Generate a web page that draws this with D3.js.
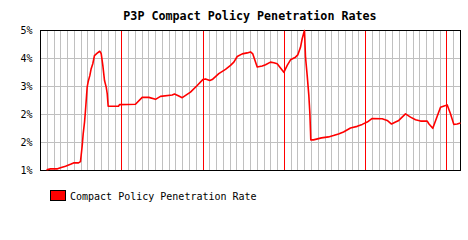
<!DOCTYPE html>
<html>
<head>
<meta charset="utf-8">
<script src="https://cdn.jsdelivr.net/npm/d3@7"></script>
<style>
  body { margin: 0; background: #ffffff; }
</style>
</head>
<body>
<div id="chart"></div>
<script>
// month index since the start of the series (62 months shown)
var months = [0.89, 1.48, 2.51, 2.95, 3.69, 4.43, 4.87, 5.61, 5.90, 6.16,
    6.30, 6.50, 6.64, 6.89, 7.04, 7.28, 7.48, 7.72, 7.97, 8.37,
    8.75, 8.96, 9.20, 9.45, 9.70, 9.85, 9.99, 11.51, 11.66, 14.02,
    15.01, 15.99, 16.98, 17.71, 19.44, 19.78, 20.42, 20.92, 22.14, 23.13,
    23.96, 24.36, 24.99, 25.35, 26.32, 27.31, 28.05, 28.54, 29.04, 29.78,
    30.51, 31.00, 31.34, 31.99, 32.73, 33.22, 33.95, 34.44, 34.94, 35.43,
    35.92, 36.42, 36.91, 37.64, 37.98, 38.38, 38.63, 38.87, 38.97, 39.12,
    39.37, 39.61, 39.76, 39.86, 39.90, 40.30, 41.48, 42.52, 43.25, 43.99,
    44.73, 45.76, 46.75, 47.49, 48.23, 48.97, 50.44, 51.18, 51.82, 52.41,
    52.89, 53.88, 54.62, 55.36, 56.10, 57.09, 57.32, 57.91, 58.56, 59.05,
    59.79, 60.04, 60.52, 61.01, 61.51, 62.00];

// penetration rate, percent
var rates = [0.77, 0.80, 0.80, 0.83, 0.88, 0.94, 0.98, 0.98, 1.02, 1.51,
    1.86, 2.22, 2.57, 3.28, 3.45, 3.63, 3.84, 3.99, 4.24, 4.31,
    4.37, 4.30, 3.94, 3.48, 3.28, 3.08, 2.70, 2.70, 2.75, 2.76,
    2.97, 2.97, 2.91, 3.00, 3.04, 3.07, 3.01, 2.96, 3.13, 3.33,
    3.51, 3.53, 3.48, 3.51, 3.69, 3.82, 3.94, 4.04, 4.21, 4.29,
    4.32, 4.35, 4.29, 3.89, 3.92, 3.96, 4.04, 4.02, 3.99, 3.86,
    3.73, 3.94, 4.11, 4.19, 4.26, 4.49, 4.75, 4.93, 5.00, 4.19,
    3.63, 3.03, 2.50, 1.93, 1.68, 1.68, 1.74, 1.77, 1.81, 1.86,
    1.92, 2.04, 2.09, 2.15, 2.22, 2.33, 2.32, 2.27, 2.16, 2.22,
    2.27, 2.47, 2.37, 2.29, 2.25, 2.25, 2.17, 2.03, 2.40, 2.67,
    2.72, 2.74, 2.47, 2.15, 2.16, 2.19];

var yTicks = [0.75, 1.6, 2.45, 3.3, 4.15, 5];
var yTickLabels = ["1%", "2%", "2%", "3%", "4%", "5%"];
var monthCount = 62;
var yearLines = [12, 24, 36, 48, 60];

var title = "P3P Compact Policy Penetration Rates";
var seriesName = "Compact Policy Penetration Rate";

var width = 468, height = 240;
var mono = "'DejaVu Sans Mono', monospace";

var svg = d3.select("#chart").append("svg")
    .attr("width", width)
    .attr("height", height)
    .style("background-color", "white");

var x = d3.scaleLinear().domain([0, monthCount]).range([40.5, 460.5]);
var y = d3.scaleLinear().domain([0.75, 5]).range([170.5, 30.5]);

var grid = svg.append("g").attr("class", "grid");

// monthly vertical grid
grid.append("g")
    .selectAll("line")
    .data(d3.range(1, monthCount))
    .enter()
    .append("line")
    .attr("x1", function(d) { return Math.round(x(d) - 0.5) + 0.5; })
    .attr("x2", function(d) { return Math.round(x(d) - 0.5) + 0.5; })
    .attr("y1", y(5))
    .attr("y2", y(0.75))
    .attr("stroke", "#c0c0c0")
    .attr("stroke-width", 1);

// horizontal grid
grid.append("g")
    .selectAll("line")
    .data(yTicks.slice(1, -1))
    .enter()
    .append("line")
    .attr("x1", x(0))
    .attr("x2", x(monthCount))
    .attr("y1", function(d) { return Math.round(y(d) - 0.5) + 0.5; })
    .attr("y2", function(d) { return Math.round(y(d) - 0.5) + 0.5; })
    .attr("stroke", "#c0c0c0")
    .attr("stroke-width", 1);

// year markers
grid.append("g")
    .selectAll("line")
    .data(yearLines)
    .enter()
    .append("line")
    .attr("x1", function(d) { return Math.round(x(d) - 0.5) + 0.5; })
    .attr("x2", function(d) { return Math.round(x(d) - 0.5) + 0.5; })
    .attr("y1", y(5))
    .attr("y2", y(0.75))
    .attr("stroke", "#ff0000")
    .attr("stroke-width", 1);

// frame
svg.append("rect")
    .attr("x", x(0))
    .attr("y", y(5))
    .attr("width", x(monthCount) - x(0))
    .attr("height", y(0.75) - y(5))
    .attr("fill", "none")
    .attr("stroke", "#000000")
    .attr("stroke-width", 1);

// y axis labels
var yAxis = d3.axisLeft(y)
    .tickValues(yTicks)
    .tickSize(0)
    .tickPadding(8)
    .tickFormat(function(d, i) { return yTickLabels[i]; });

var yg = svg.append("g")
    .attr("transform", "translate(" + x(0) + ",0)")
    .call(yAxis);
yg.select(".domain").remove();
yg.selectAll("text")
    .style("font-family", mono)
    .style("font-size", "10px")
    .style("fill", "#000000");

// series line
var points = months.map(function(m, i) { return [m, rates[i]]; });
var line = d3.line()
    .x(function(d) { return x(d[0]); })
    .y(function(d) { return y(d[1]); });

svg.append("path")
    .datum(points)
    .attr("d", line)
    .attr("fill", "none")
    .attr("stroke", "#ff0000")
    .attr("stroke-width", 1.6)
    .attr("stroke-linejoin", "round");

// title
svg.append("text")
    .attr("x", 250)
    .attr("y", 20)
    .style("text-anchor", "middle")
    .style("font-family", mono)
    .style("font-weight", "bold")
    .style("font-size", "11.7px")
    .style("fill", "#000000")
    .text(title);

// legend
var legend = svg.append("g").attr("class", "legend");
legend.append("rect")
    .attr("x", 50.5)
    .attr("y", 190.5)
    .attr("width", 15)
    .attr("height", 10)
    .attr("fill", "#ff0000")
    .attr("stroke", "#000000")
    .attr("stroke-width", 1);
legend.append("text")
    .attr("x", 70)
    .attr("y", 200)
    .style("font-family", mono)
    .style("font-size", "10px")
    .style("fill", "#000000")
    .text(seriesName);
</script>
</body>
</html>
